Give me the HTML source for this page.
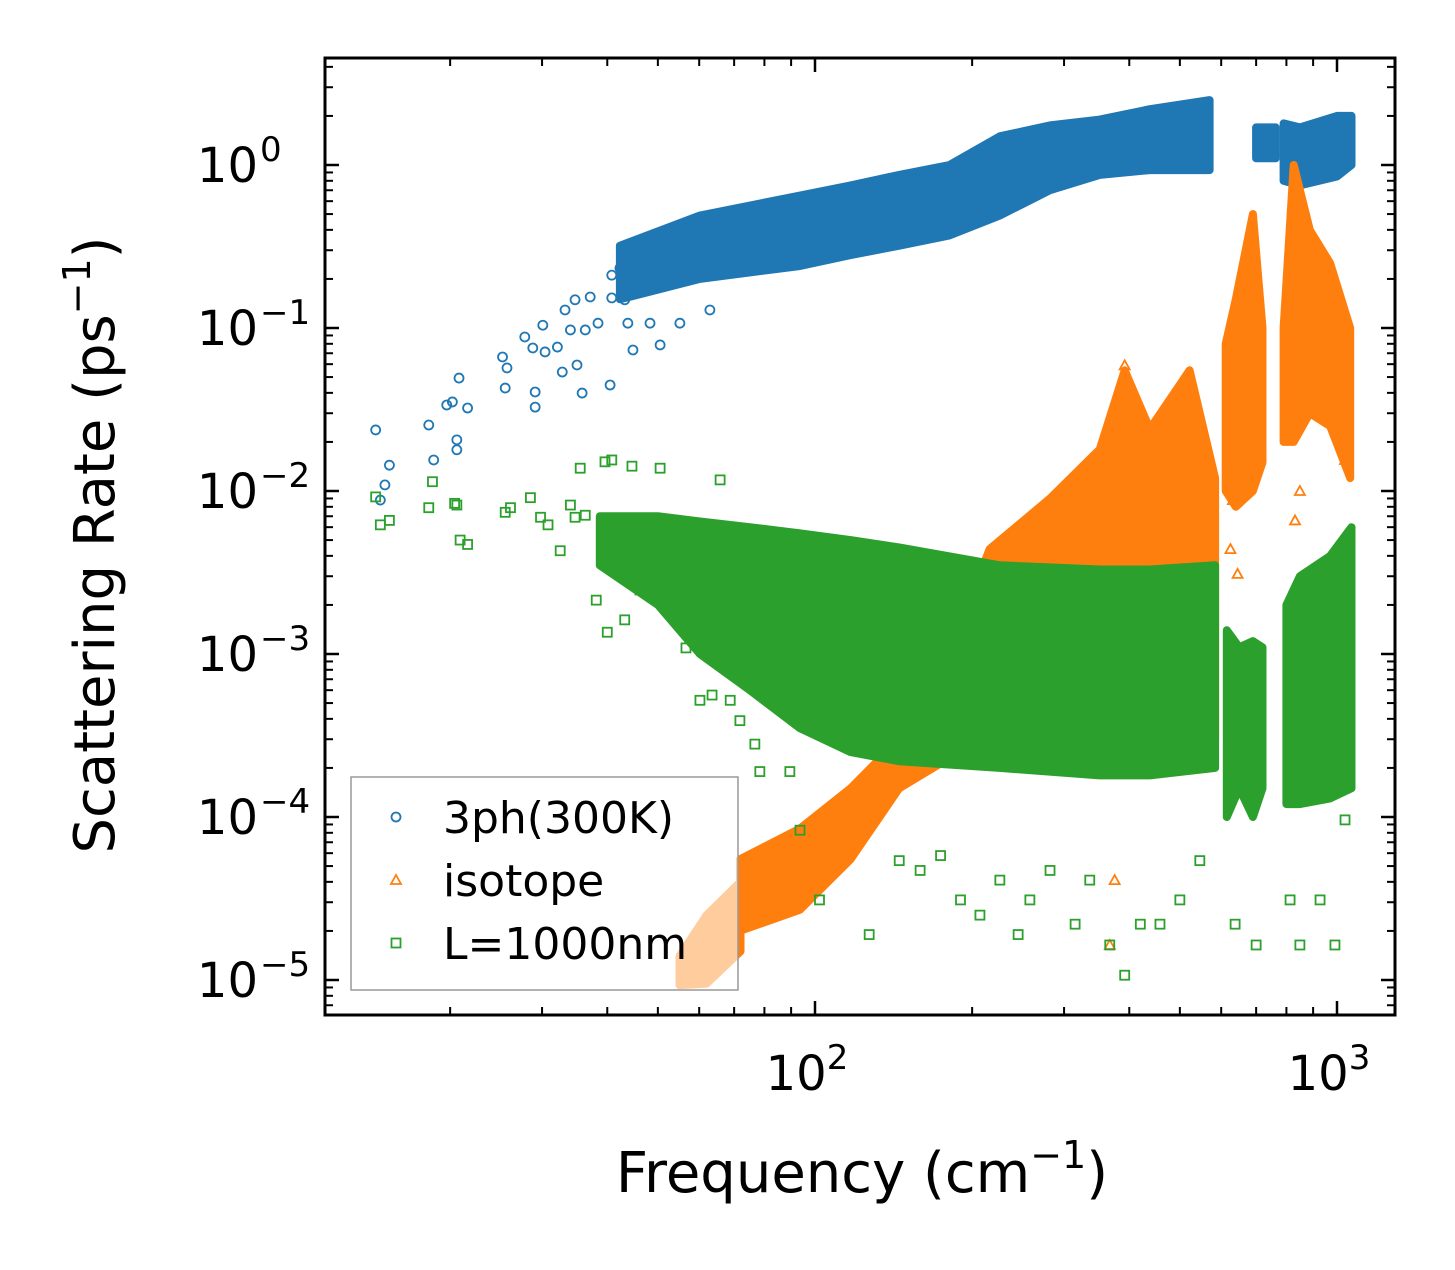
<!DOCTYPE html>
<html><head><meta charset="utf-8"><style>
body{margin:0;background:#fff;}
svg text{font-family:"DejaVu Sans","Liberation Sans",sans-serif;fill:#000;}
</style></head><body>
<svg id="chart" width="1455" height="1265" viewBox="0 0 1455 1265" xmlns="http://www.w3.org/2000/svg">
<rect width="1455" height="1265" fill="#fff"/>
<g id="data"></g>
<g id="axes"></g>
</svg>
<script>
// ----- data (frequency in cm^-1, rate in ps^-1) -----
const blueBandFreq=[42.3,60.2,93.6,117,145,181,226,282,351,438,570];
const blueBandLo=[0.15,0.2,0.24,0.28,0.32,0.37,0.49,0.7,0.87,0.93,0.93];
const blueBandHi=[0.32,0.49,0.65,0.75,0.87,1.0,1.5,1.75,1.9,2.2,2.5];
const blueBand2Freq=[700,763];const blueBand2Lo=[1.1,1.1];const blueBand2Hi=[1.7,1.7];
const blueBand3Freq=[790,849,1000,1066];const blueBand3Lo=[0.8,0.75,0.85,1.0];const blueBand3Hi=[1.8,1.7,2.0,2.0];
const bluePtsFreq=[14.4,14.7,15.0,15.3,18.2,18.6,19.7,20.2,20.6,20.8,20.6,21.6,25.2,25.5,25.7,27.8,28.8,29.1,29.1,30.1,30.4,32.1,32.8,33.2,34.0,34.7,35.0,35.8,36.3,37.1,38.4,40.5,40.8,40.8,42.3,43.2,43.8,44.8,46.2,47.2,48.3,49.4,50.5,51.6,55.1,62.9];
const bluePtsRate=[0.0237,0.0088,0.0109,0.0144,0.0254,0.0155,0.0337,0.0352,0.0206,0.0493,0.0179,0.0323,0.0664,0.0428,0.0569,0.0881,0.0754,0.0405,0.0327,0.104,0.0713,0.0764,0.0537,0.129,0.0973,0.149,0.0593,0.0399,0.0973,0.155,0.107,0.0447,0.211,0.153,0.233,0.149,0.107,0.0733,0.254,0.171,0.107,0.301,0.0787,0.347,0.107,0.129];

const orgBandFreq=[71.8,93.6,117,145,181,216,282,351,392,438,522,584];
const orgBandLo=[2e-5,2.7e-5,5.5e-5,1.5e-4,2.3e-4,3e-4,3e-4,3e-4,3e-4,3e-4,3e-4,3e-4];
const orgBandHi=[5.5e-5,8.5e-5,1.5e-4,3e-4,1e-3,4.4e-3,9e-3,1.8e-2,5.5e-2,2.4e-2,5.5e-2,1.2e-2];
const orgBand2Freq=[612,640,690,720];const orgBand2Lo=[0.01,0.008,0.01,0.015];const orgBand2Hi=[0.08,0.15,0.5,0.1];
const orgBand3Freq=[790,826,887,970,1060];const orgBand3Lo=[0.02,0.02,0.03,0.025,0.012];const orgBand3Hi=[0.1,1.0,0.4,0.25,0.1];
const orgLightFreq=[55,62,72];const orgLightLo=[9.3e-6,9.5e-6,1.5e-5];const orgLightHi=[1.4e-5,2.5e-5,4e-5];
const orgPtsFreq=[367,375,392,625,632,645,831,849,1036];
const orgPtsRate=[1.64e-5,4.1e-5,0.059,4.4e-3,8.8e-3,3.1e-3,6.6e-3,0.01,0.0155];

const grnBandFreq=[38.7,50,60.2,75,93.6,117,145,226,351,438,584];
const grnBandLo=[3.5e-3,2e-3,1e-3,6e-4,3.5e-4,2.5e-4,2.2e-4,2e-4,1.8e-4,1.8e-4,2e-4];
const grnBandHi=[7e-3,7e-3,6.5e-3,6e-3,5.5e-3,5e-3,4.5e-3,3.5e-3,3.3e-3,3.3e-3,3.5e-3];
const grnBand2Freq=[615,650,690,720];const grnBand2Lo=[1e-4,1.5e-4,1e-4,1.5e-4];const grnBand2Hi=[1.4e-3,1.1e-3,1.2e-3,1.1e-3];
const grnBand3Freq=[800,849,970,1066];const grnBand3Lo=[1.2e-4,1.2e-4,1.3e-4,1.5e-4];const grnBand3Hi=[2e-3,3e-3,4e-3,6e-3];
const grnPtsFreq=[14.4,14.7,15.3,18.2,18.5,20.4,20.6,20.9,21.6,25.5,26.1,28.5,29.8,30.8,32.5,34.0,34.7,35.5,36.3,38.1,39.6,40.8,40.0,42.3,43.2,44.6,46.2,50.5,49.4,56.6,60.2,63.5,65.8,68.8,71.8,76.7,78.4,89.5,93.6,102,127,145,159,174,190,207,226,245,258,282,315,336,367,392,420,458,500,546,638,700,813,849,928,991,1036];
const grnPtsRate=[0.0092,0.0062,0.0066,0.0079,0.0114,0.0084,0.0082,0.0050,0.0047,0.0074,0.0079,0.0091,0.0069,0.0062,0.0043,0.0082,0.0069,0.0138,0.0071,0.00214,0.0151,0.0155,0.00136,0.00327,0.00162,0.0142,0.00247,0.0138,0.00405,0.00109,0.00052,0.00056,0.0117,0.00052,0.00039,0.00028,0.00019,0.00019,8.3e-5,3.1e-5,1.9e-5,5.4e-5,4.7e-5,5.8e-5,3.1e-5,2.5e-5,4.1e-5,1.9e-5,3.1e-5,4.7e-5,2.2e-5,4.1e-5,1.64e-5,1.07e-5,2.2e-5,2.2e-5,3.1e-5,5.4e-5,2.2e-5,1.64e-5,3.1e-5,1.64e-5,3.1e-5,1.64e-5,9.6e-5];

const xTickVals=[100,1000];const xTickLabels=["2","3"];
const yTickVals=[1,0.1,0.01,0.001,0.0001,0.00001];const yTickLabels=["0","−1","−2","−3","−4","−5"];

// ----- axes functions -----
const L=325,R=1395,T=58,B=1015;
function xs(f){return 815+(Math.log10(f)-2)*522;}
function ys(v){return 165-Math.log10(v)*163;}
const NS="http://www.w3.org/2000/svg";
const dataG=document.getElementById('data'),axG=document.getElementById('axes');
function el(tag,attrs,parent){const e=document.createElementNS(NS,tag);for(const k in attrs)e.setAttribute(k,attrs[k]);parent.appendChild(e);return e;}

function band(fr,lo,hi,color,name){
  let pts=[];
  for(let i=0;i<fr.length;i++)pts.push(xs(fr[i]).toFixed(1)+','+ys(hi[i]).toFixed(1));
  for(let i=fr.length-1;i>=0;i--)pts.push(xs(fr[i]).toFixed(1)+','+ys(lo[i]).toFixed(1));
  const p=el('polygon',{points:pts.join(' '),fill:color,stroke:color,'stroke-width':8,'stroke-linejoin':'round'},dataG);
  
  
}
function marker(type,x,y,color,parent){
  let m;
  if(type==='c')m=el('circle',{cx:x,cy:y,r:4.5,fill:'none',stroke:color,'stroke-width':1.8},parent);
  else if(type==='t')m=el('polygon',{points:`${x},${y-5} ${x+5},${y+4} ${x-5},${y+4}`,fill:'none',stroke:color,'stroke-width':1.8},parent);
  else m=el('rect',{x:x-4.5,y:y-4.5,width:9,height:9,fill:'none',stroke:color,'stroke-width':1.8},parent);
  return m;
}
function pts(fr,val,type,color,name){
  for(let i=0;i<fr.length;i++){
    const m=marker(type,xs(fr[i]),ys(val[i]),color,dataG);
    
    
  }
}
const BLUE='#1f77b4',ORG='#ff7f0e',GRN='#2ca02c';
band(blueBandFreq,blueBandLo,blueBandHi,BLUE,'3ph-band');
band(blueBand2Freq,blueBand2Lo,blueBand2Hi,BLUE,'3ph-band-2');
band(blueBand3Freq,blueBand3Lo,blueBand3Hi,BLUE,'3ph-band-3');
pts(bluePtsFreq,bluePtsRate,'c',BLUE,'3ph-point');
band(orgBandFreq,orgBandLo,orgBandHi,ORG,'isotope-band');
band(orgBand2Freq,orgBand2Lo,orgBand2Hi,ORG,'isotope-band-2');
band(orgBand3Freq,orgBand3Lo,orgBand3Hi,ORG,'isotope-band-3');
band(orgLightFreq,orgLightLo,orgLightHi,ORG,'isotope-band-low');
pts(orgPtsFreq,orgPtsRate,'t',ORG,'isotope-point');
band(grnBandFreq,grnBandLo,grnBandHi,GRN,'l1000nm-band');
band(grnBand2Freq,grnBand2Lo,grnBand2Hi,GRN,'l1000nm-band-2');
band(grnBand3Freq,grnBand3Lo,grnBand3Hi,GRN,'l1000nm-band-3');
pts(grnPtsFreq,grnPtsRate,'s',GRN,'l1000nm-point');

// ----- legend -----
const lg=el('g',{},axG);


el('rect',{x:351,y:777,width:387,height:213,fill:'#fff','fill-opacity':0.6,stroke:'#999','stroke-width':1.5},lg);
const legNames=['3ph(300K)','isotope','L=1000nm'],legTypes=['c','t','s'],legCols=[BLUE,ORG,GRN];
for(let i=0;i<3;i++){
  const y=817+i*63;
  const e=el('g',{},lg);
  
  
  marker(legTypes[i],396,y,legCols[i],e);
  const t=el('text',{x:443,y:y+16,'font-size':44},e);t.textContent=legNames[i];
}

// ----- axes frame & ticks -----
el('rect',{x:L,y:T,width:R-L,height:B-T,fill:'none',stroke:'#000','stroke-width':3},axG);
function tick(x1,y1,x2,y2,w){el('line',{x1,y1,x2,y2,stroke:'#000','stroke-width':w},axG);}
for(let d=1;d<=3;d++){
  for(let k=1;k<=9;k++){
    const f=k*Math.pow(10,d);const x=xs(f);
    if(x<L+1||x>R-1)continue;
    const len=k===1?14:8,w=k===1?2.5:2;
    tick(x,B,x,B-len,w);tick(x,T,x,T+len,w);
  }
}
for(let d=-6;d<=0;d++){
  for(let k=1;k<=9;k++){
    const v=k*Math.pow(10,d);const y=ys(v);
    if(y<T+1||y>B-1)continue;
    const len=k===1?14:8,w=k===1?2.5:2;
    tick(L,y,L+len,y,w);tick(R,y,R-len,y,w);
  }
}
for(let i=0;i<xTickVals.length;i++){
  const t=el('text',{x:xs(xTickVals[i])-8,y:1090,'font-size':48,'text-anchor':'middle'},axG);
  
  
  t.innerHTML='10<tspan dy="-21" font-size="34">'+xTickLabels[i]+'</tspan>';
}
for(let i=0;i<yTickVals.length;i++){
  const t=el('text',{x:258,y:ys(yTickVals[i])+17,'font-size':48,'text-anchor':'end'},axG);
  
  
  t.textContent='10';
  const s=el('text',{x:260,y:ys(yTickVals[i])-4,'font-size':34,'text-anchor':'start'},axG);
  
  
  s.textContent=yTickLabels[i];
}
const xt=el('text',{x:862,y:1192,'font-size':56,'text-anchor':'middle'},axG);


xt.innerHTML='Frequency (cm<tspan dy="-24" font-size="38">−1</tspan><tspan dy="24">)</tspan>';
const yt=el('text',{x:0,y:0,'font-size':56,'text-anchor':'middle',transform:'translate(114,545) rotate(-90)'},axG);


yt.innerHTML='Scattering Rate (ps<tspan dy="-24" font-size="38">−1</tspan><tspan dy="24">)</tspan>';
</script>
</body></html>
